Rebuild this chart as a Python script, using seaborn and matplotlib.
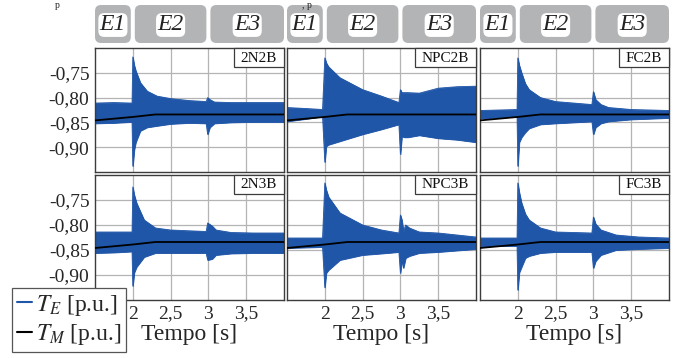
import numpy as np
import pandas as pd
import matplotlib
matplotlib.use("Agg")
import matplotlib.pyplot as plt
import seaborn as sns
from matplotlib.patches import FancyBboxPatch, Rectangle
from matplotlib.lines import Line2D

# ---------------- data ----------------
panel_names = ["2N2B", "NPC2B", "FC2B", "2N3B", "NPC3B", "FC3B"]
phase_labels = ["E1", "E2", "E3"]
phase_edges = [1.5, 2.0, 3.0, 4.0]
x_ticks = [2.0, 2.5, 3.0, 3.5]
x_tick_labels = ["2", "2,5", "3", "3,5"]
y_ticks = [-0.75, -0.80, -0.85, -0.90]
y_tick_labels = ["-0,75", "-0,80", "-0,85", "-0,90"]
x_label = "Tempo [s]"
legend_labels = [r"$T_E$ [p.u.]", r"$T_M$ [p.u.]"]

# mechanical torque T_M (same in every case)
tm_t = [1.5, 2.0, 2.3, 4.0]
tm_v = [-0.846, -0.839, -0.834, -0.834]

# envelope of the electromagnetic torque T_E (time, upper, lower)
t_2N2B = [1.5, 1.75, 1.99, 2.0, 2.02, 2.04, 2.1, 2.19, 2.32, 2.5, 2.75, 2.97, 2.99, 3.02, 3.08, 3.3, 3.6, 4.0]
up_2N2B = [-0.811, -0.810, -0.811, -0.718, -0.735, -0.746, -0.770, -0.787, -0.797, -0.802, -0.806, -0.808, -0.800, -0.804, -0.809, -0.810, -0.810, -0.810]
lo_2N2B = [-0.852, -0.851, -0.849, -0.938, -0.905, -0.890, -0.867, -0.860, -0.857, -0.853, -0.851, -0.852, -0.874, -0.860, -0.852, -0.850, -0.849, -0.849]

t_NPC2B = [1.5, 1.75, 1.97, 2.0, 2.02, 2.05, 2.2, 2.5, 2.75, 2.98, 3.0, 3.02, 3.05, 3.1, 3.25, 3.5, 3.75, 4.0]
up_NPC2B = [-0.820, -0.822, -0.824, -0.720, -0.730, -0.738, -0.760, -0.784, -0.797, -0.810, -0.784, -0.790, -0.790, -0.790, -0.791, -0.781, -0.778, -0.777]
lo_NPC2B = [-0.848, -0.843, -0.838, -0.930, -0.898, -0.895, -0.888, -0.874, -0.864, -0.854, -0.914, -0.878, -0.880, -0.880, -0.876, -0.882, -0.885, -0.890]

t_FC2B = [1.5, 1.75, 1.99, 2.0, 2.02, 2.05, 2.1, 2.15, 2.3, 2.5, 2.98, 3.0, 3.03, 3.1, 3.2, 3.5, 4.0]
up_FC2B = [-0.826, -0.825, -0.824, -0.720, -0.735, -0.750, -0.772, -0.784, -0.800, -0.808, -0.814, -0.788, -0.804, -0.814, -0.820, -0.824, -0.826]
lo_FC2B = [-0.842, -0.840, -0.838, -0.938, -0.890, -0.880, -0.870, -0.862, -0.854, -0.852, -0.848, -0.874, -0.860, -0.852, -0.848, -0.844, -0.841]

t_2N3B = [1.5, 1.75, 1.99, 2.0, 2.02, 2.05, 2.15, 2.3, 2.5, 2.97, 2.99, 3.05, 3.1, 3.3, 3.6, 4.0]
up_2N3B = [-0.814, -0.814, -0.814, -0.724, -0.740, -0.756, -0.790, -0.806, -0.810, -0.813, -0.796, -0.802, -0.810, -0.815, -0.816, -0.816]
lo_2N3B = [-0.856, -0.855, -0.853, -0.922, -0.895, -0.884, -0.864, -0.856, -0.856, -0.856, -0.870, -0.868, -0.860, -0.857, -0.856, -0.856]

t_NPC3B = [1.5, 1.75, 1.97, 2.0, 2.02, 2.05, 2.2, 2.5, 2.75, 2.98, 3.0, 3.02, 3.04, 3.07, 3.12, 3.25, 3.5, 4.0]
up_NPC3B = [-0.826, -0.826, -0.826, -0.716, -0.730, -0.744, -0.776, -0.800, -0.810, -0.816, -0.780, -0.790, -0.812, -0.800, -0.806, -0.814, -0.816, -0.824]
lo_NPC3B = [-0.846, -0.845, -0.844, -0.925, -0.896, -0.890, -0.870, -0.860, -0.857, -0.854, -0.896, -0.870, -0.886, -0.866, -0.862, -0.856, -0.854, -0.848]

t_FC3B = [1.5, 1.75, 1.99, 2.0, 2.02, 2.05, 2.1, 2.15, 2.3, 2.5, 2.98, 3.0, 3.03, 3.1, 3.3, 3.6, 4.0]
up_FC3B = [-0.826, -0.826, -0.826, -0.716, -0.735, -0.756, -0.778, -0.790, -0.806, -0.814, -0.816, -0.784, -0.798, -0.810, -0.820, -0.824, -0.826]
lo_FC3B = [-0.842, -0.842, -0.842, -0.930, -0.895, -0.884, -0.866, -0.862, -0.856, -0.854, -0.854, -0.886, -0.872, -0.860, -0.850, -0.848, -0.846]

envelopes = {
    "2N2B": (t_2N2B, up_2N2B, lo_2N2B),
    "NPC2B": (t_NPC2B, up_NPC2B, lo_NPC2B),
    "FC2B": (t_FC2B, up_FC2B, lo_FC2B),
    "2N3B": (t_2N3B, up_2N3B, lo_2N3B),
    "NPC3B": (t_NPC3B, up_NPC3B, lo_NPC3B),
    "FC3B": (t_FC3B, up_FC3B, lo_FC3B),
}

# ---------------- style ----------------
sns.set_theme(style="white")
plt.rcParams['font.family'] = ['Liberation Serif', 'DejaVu Serif']
plt.rcParams['mathtext.fontset'] = 'stix'

BLUE = "#1f56a8"
GRAY = "#b2b4b6"
FRAME = "#3c3c3c"
GRID = "#b4b4b4"

W, H, DPI = 677, 358, 100
fig = plt.figure(figsize=(W / DPI, H / DPI), dpi=DPI)

cols = [(95, 284), (287, 476), (480, 669)]
rows = [(48, 172), (175, 300)]
XLIM = (1.5, 4.0)
YLIM = (-0.95, -0.70)

# overlay axes in pixel coordinates (y from top)
ov = fig.add_axes([0, 0, 1, 1], zorder=3)
ov.set_xlim(0, W)
ov.set_ylim(H, 0)
ov.axis("off")
ov.patch.set_alpha(0)

axes = []
for r, (ytop, ybot) in enumerate(rows):
    for c, (xl, xr) in enumerate(cols):
        name = panel_names[r * 3 + c]
        ax = fig.add_axes([xl / W, 1 - ybot / H, (xr - xl) / W, (ybot - ytop) / H], zorder=1)
        t, up, lo = envelopes[name]
        ax.fill_between(t, lo, up, color=BLUE, lw=0.6, edgecolor=BLUE, zorder=2)
        sns.lineplot(x=t, y=up, ax=ax, color=BLUE, lw=0.6, zorder=2)
        sns.lineplot(x=t, y=lo, ax=ax, color=BLUE, lw=0.6, zorder=2)
        sns.lineplot(x=tm_t, y=tm_v, ax=ax, color="black", lw=1.3, zorder=3)
        ax.set_xlim(*XLIM)
        ax.set_ylim(*YLIM)
        ax.set_xticks(x_ticks)
        ax.set_yticks(y_ticks)
        ax.set_axisbelow(True)
        ax.grid(True, color=GRID, lw=0.9)
        for s in ax.spines.values():
            s.set_color(FRAME)
            s.set_linewidth(1.0)
        ax.tick_params(direction="in", length=3, color=FRAME, labelsize=14, pad=4)
        if c == 0:
            ax.set_yticklabels(y_tick_labels)
        else:
            ax.set_yticklabels([])
        if r == 1:
            ax.set_xticklabels(x_tick_labels)
            ax.set_xlabel(x_label, fontsize=17, labelpad=1)
        else:
            ax.set_xticklabels([])
        ax.set_ylabel("")
        axes.append((ax, name, xl, xr, ytop, ybot))

# header phase boxes
for (xl, xr) in cols:
    def tx(tv):
        return xl + (tv - XLIM[0]) / (XLIM[1] - XLIM[0]) * (xr - xl)
    for i, lab in enumerate(phase_labels):
        a, b = phase_edges[i], phase_edges[i + 1]
        x0 = tx(a) + (2 if i > 0 else 0)
        x1 = tx(b) - (2 if i < len(phase_labels) - 1 else 0)
        ov.add_patch(FancyBboxPatch((x0, 5), x1 - x0, 38,
                                    boxstyle="round,pad=0,rounding_size=6",
                                    fc=GRAY, ec="none"))
        ov.text((x0 + x1) / 2, 25, lab, fontsize=17, style="italic",
                ha="center", va="center", color="#222222",
                bbox=dict(boxstyle="round,pad=0.06,rounding_size=0.25", fc="white", ec="none"))

# panel name labels
txts = []
for (ax, name, xl, xr, ytop, ybot) in axes:
    tt = ov.text(xr - 7, ytop + 10, name, fontsize=11, ha="right", va="center",
                 color="#111111", zorder=5)
    txts.append((tt, xr, ytop))
fig.canvas.draw()
ren = fig.canvas.get_renderer()
for tt, xr, ytop in txts:
    bb = tt.get_window_extent(renderer=ren)
    x0 = bb.x0 - 7
    ov.add_patch(Rectangle((x0, ytop), xr - x0, 19, fc="white", ec=FRAME, lw=0.9, zorder=4))

# small text fragments at the top edge of the reference
ov.text(55, 0.5, "p", fontsize=7, ha="left", va="top", color="#222222")
ov.text(302, 0.5, ", p", fontsize=7, ha="left", va="top", color="#222222")

handles = [Line2D([0], [0], color=BLUE, lw=1.5), Line2D([0], [0], color="black", lw=1.5)]
leg = fig.legend(handles, legend_labels, loc="upper left",
                 bbox_to_anchor=(12 / W, 1 - 288 / H), bbox_transform=fig.transFigure,
                 frameon=True, fancybox=False, edgecolor="#555555", framealpha=1,
                 fontsize=17, handlelength=0.65, handletextpad=0.15, borderpad=0.2,
                 labelspacing=0.2, borderaxespad=0)
leg.get_frame().set_linewidth(0.9)
leg.set_zorder(10)

fig.savefig("out.png", dpi=DPI)
